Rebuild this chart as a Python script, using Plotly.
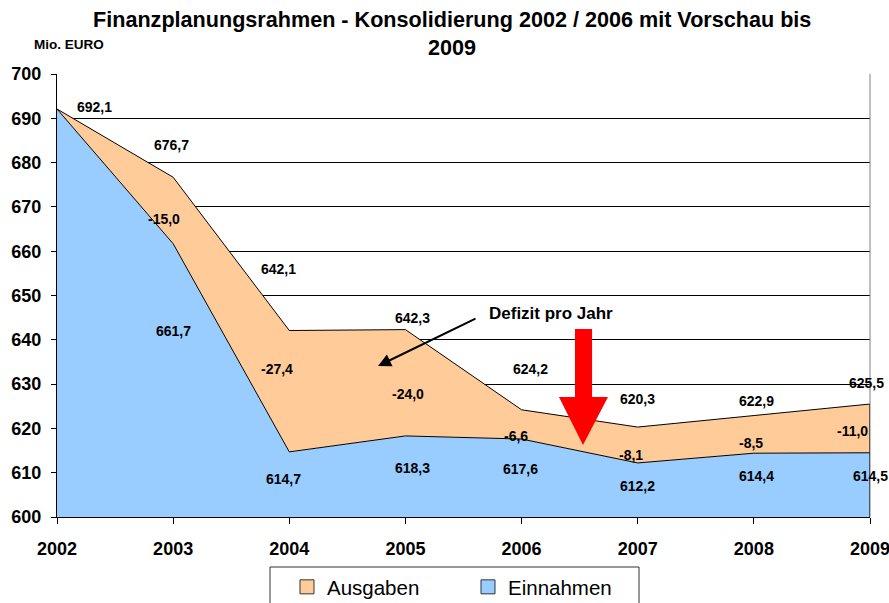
import plotly.graph_objects as go

years = [2002, 2003, 2004, 2005, 2006, 2007, 2008, 2009]
ausgaben = [692.1, 676.7, 642.1, 642.3, 624.2, 620.3, 622.9, 625.5]
einnahmen = [692.1, 661.7, 614.7, 618.3, 617.6, 612.2, 614.4, 614.5]
defizit_years = [2003, 2004, 2005, 2006, 2007, 2008, 2009]
defizit = [-15.0, -27.4, -24.0, -6.6, -8.1, -8.5, -11.0]
y_ticks = [600, 610, 620, 630, 640, 650, 660, 670, 680, 690, 700]
title_lines = ["Finanzplanungsrahmen - Konsolidierung 2002 / 2006 mit Vorschau bis", "2009"]

# label offsets (pixels)
top_dx = [37, -2, -11, 7, 9, 0, 3, -4]
top_dy = [2, 32, 62, 12, 41, 28, 15, 21]
ein_dx = [0, -6, 7, -1, 0, 3, 0]
ein_dy = [-87, -27, -32, -30, -23, -23, -23]
def_dx = [-9, -12, 3, -6, -7, -3, -18]
def_dy = [25, 83, 42, 3, 8, 10, 22]

ORANGE = "#FFCC99"
BLUE = "#99CCFF"
FONT = "Liberation Sans"


def fmt(v):
    return f"{v:.1f}".replace(".", ",")


fig = go.Figure()
fig.add_trace(go.Scatter(x=years, y=einnahmen, mode="lines", fill="tozeroy",
                         fillcolor=BLUE, line=dict(color="black", width=1),
                         showlegend=False, hoverinfo="skip"))
fig.add_trace(go.Scatter(x=years, y=ausgaben, mode="lines", fill="tonexty",
                         fillcolor=ORANGE, line=dict(color="black", width=1),
                         showlegend=False, hoverinfo="skip"))
# legend entries
fig.add_trace(go.Scatter(x=[None], y=[None], mode="markers", name="Ausgaben",
                         marker=dict(symbol="square", size=14, color=ORANGE,
                                     line=dict(color="#333333", width=1))))
fig.add_trace(go.Scatter(x=[None], y=[None], mode="markers", name="Einnahmen",
                         marker=dict(symbol="square", size=14, color=BLUE,
                                     line=dict(color="#333333", width=1))))

ann = []
lbl_font = dict(family=FONT, size=14, color="black", weight="bold")
for i, (x, v) in enumerate(zip(years, ausgaben)):
    ann.append(dict(x=x, y=v, text=fmt(v), showarrow=False, xshift=top_dx[i],
                    yshift=top_dy[i], font=lbl_font))
for i, (x, v) in enumerate(zip(years[1:], einnahmen[1:])):
    ann.append(dict(x=x, y=v, text=fmt(v), showarrow=False, xshift=ein_dx[i],
                    yshift=ein_dy[i], font=lbl_font))
for i, (x, d) in enumerate(zip(defizit_years, defizit)):
    v = einnahmen[years.index(x)]
    ann.append(dict(x=x, y=v, text=fmt(d), showarrow=False, xshift=def_dx[i],
                    yshift=def_dy[i], font=lbl_font))

# "Defizit pro Jahr" text + arrow
ann.append(dict(x=2006.253, y=646.05, text="Defizit pro Jahr", showarrow=False,
                font=dict(family=FONT, size=17, color="black", weight="bold")))
ann.append(dict(x=2004.764, y=634.09, ax=99, ay=-48, text="", showarrow=True,
                arrowhead=2, arrowsize=1.3, arrowwidth=2, arrowcolor="black",
                standoff=0, startstandoff=0))
# Mio. EURO
ann.append(dict(xref="paper", yref="paper", x=-0.0308, y=1.0677, xanchor="left",
                yanchor="middle", text="Mio. EURO", showarrow=False,
                font=dict(family=FONT, size=13.5, color="black", weight="bold")))
# title
title_font = dict(family=FONT, size=21.6, color="black", weight="bold")
ann.append(dict(xref="paper", yref="paper", x=0.4859, y=1.1219, xanchor="center",
                yanchor="middle", text=title_lines[0], showarrow=False, font=title_font))
ann.append(dict(xref="paper", yref="paper", x=0.4859, y=1.0609, xanchor="center",
                yanchor="middle", text=title_lines[1], showarrow=False, font=title_font))

red_arrow = [(2006.460, 642.44), (2006.607, 642.44), (2006.607, 627.09),
             (2006.744, 627.09), (2006.529, 616.25), (2006.322, 627.09),
             (2006.460, 627.09)]
path = "M " + " L ".join(f"{x},{y}" for x, y in red_arrow) + " Z"

shapes = [
    dict(type="path", xref="x", yref="y", path=path, fillcolor="#FF0000",
         line=dict(width=0)),
    dict(type="line", xref="paper", yref="paper", x0=1, x1=1, y0=0, y1=1,
         line=dict(color="#808080", width=1)),
    dict(type="line", xref="x", yref="y", x0=years[-1], x1=years[-1], y0=600,
         y1=ausgaben[-1], line=dict(color="black", width=1)),
    # legend frame
    dict(type="rect", xref="paper", yref="paper", x0=0.262, x1=0.7159,
         y0=-0.1129, y1=-0.30, line=dict(color="#333333", width=1),
         fillcolor="rgba(0,0,0,0)", layer="above"),
]

fig.update_layout(
    width=889, height=603, autosize=False,
    margin=dict(l=57, r=19, t=74, b=86, autoexpand=False),
    paper_bgcolor="white", plot_bgcolor="white",
    xaxis=dict(range=[2002, 2009], tickvals=years, ticktext=[str(y) for y in years],
               showgrid=False, zeroline=False, showline=True, linecolor="black",
               linewidth=1, ticks="outside", ticklen=6, tickcolor="black",
               ticklabelstandoff=9, automargin=False, ticklabeloverflow="allow",
               tickfont=dict(family=FONT, size=18, color="black", weight="bold")),
    yaxis=dict(range=[600, 700], tickvals=y_ticks, showgrid=True, gridcolor="black",
               gridwidth=1, zeroline=False, showline=True, linecolor="black",
               linewidth=1, ticks="outside", ticklen=5, tickcolor="black",
               ticklabelstandoff=6, automargin=False,
               tickfont=dict(family=FONT, size=18, color="black", weight="bold")),
    legend=dict(orientation="h", x=0.2829, xanchor="left", y=-0.1129, yanchor="top",
                borderwidth=0, bgcolor="rgba(0,0,0,0)",
                traceorder="normal",
                entrywidth=136, entrywidthmode="pixels",
                font=dict(family=FONT, size=20.5, color="black")),
    annotations=ann, shapes=shapes,
)

fig.write_html("out.html",
               config={"displayModeBar": False},
               post_script="document.body.style.margin='0';document.body.style.overflow='hidden';")
